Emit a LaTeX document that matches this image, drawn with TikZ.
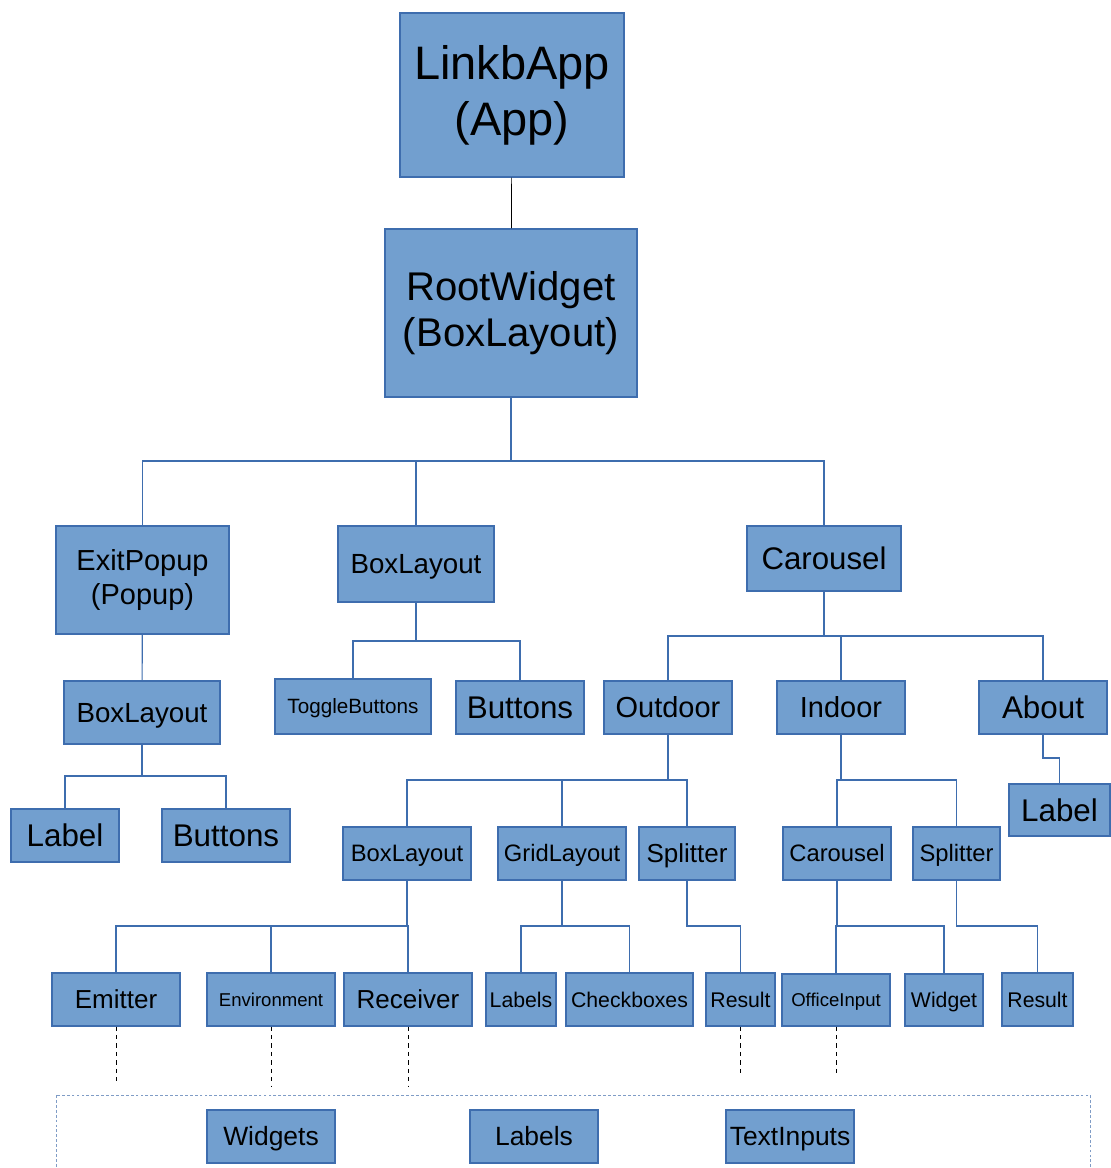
\documentclass[tikz,border=0pt]{standalone}
\usepackage{fontspec}
\setmainfont{Liberation Sans}
\usepackage{xcolor}
\usepackage{tikz}

\definecolor{boxfill}{HTML}{729FCF}
\definecolor{boxline}{HTML}{3E6DAE}
\definecolor{wireblue}{HTML}{3E6DAE}
\definecolor{framegray}{HTML}{7F9CC6}

\begin{document}
\begin{tikzpicture}[x=0.025cm, y=-0.025cm,
  box/.style={rectangle, draw=boxline, fill=boxfill, line width=0.8pt, inner sep=0pt, align=center, text=black},
  cell/.style={box, font=\fontsize{#1pt}{#1pt}\selectfont, text height=0.92*#1pt, text depth=0.21*#1pt},
  fs/.style 2 args={font=\fontsize{#1pt}{#2pt}\selectfont},
  wire/.style={draw=wireblue, line width=0.8pt},
  lead/.style={draw=black, dashed, line width=0.5pt},
  frame/.style={draw=framegray, dash pattern=on 2pt off 1.5pt, line width=0.6pt}]
\useasboundingbox (0,0) rectangle (1110,1168);

\node (app) [box, minimum width=5.6cm, minimum height=4.1cm, fs={33.4}{39.8}] at (512,95) {LinkbApp\\(App)};
\node (root) [box, minimum width=6.3cm, minimum height=4.2cm, fs={28.5}{32.7}] at (511,313) {RootWidget\\(BoxLayout)};

\node (exitpopup) [box, minimum width=4.325cm, minimum height=2.7cm, fs={20.6}{24.2}] at (142.5,580) {ExitPopup\\(Popup)};
\node (boxlayout) [cell=19.7, minimum width=3.9cm, minimum height=1.9cm] at (416,564) {BoxLayout};
\node (carousel) [cell=22.2, minimum width=3.85cm, minimum height=1.625cm] at (824,558.5) {Carousel};

\node (popuplayout) [cell=19.7, minimum width=3.9cm, minimum height=1.575cm] at (142,712.5) {BoxLayout};
\node (togglebuttons) [cell=14.7, minimum width=3.9cm, minimum height=1.375cm] at (353,706.5) {ToggleButtons};
\node (buttons) [cell=22.3, minimum width=3.2cm, minimum height=1.325cm] at (520,707.5) {Buttons};
\node (outdoor) [cell=20.6, minimum width=3.2cm, minimum height=1.325cm] at (668,707.5) {Outdoor};
\node (indoor) [cell=20.6, minimum width=3.2cm, minimum height=1.325cm] at (841,707.5) {Indoor};
\node (about) [cell=22.3, minimum width=3.2cm, minimum height=1.325cm] at (1043,707.5) {About};

\node (popuplabel) [cell=22.3, minimum width=2.7cm, minimum height=1.325cm] at (65,835.5) {Label};
\node (popupbuttons) [cell=22.3, minimum width=3.2cm, minimum height=1.325cm] at (226,835.5) {Buttons};
\node (aboutlabel) [cell=22.3, minimum width=2.525cm, minimum height=1.3cm] at (1059.5,810) {Label};

\node (outboxlayout) [cell=16.9, minimum width=3.2cm, minimum height=1.325cm] at (407,853.5) {BoxLayout};
\node (gridlayout) [cell=16.9, minimum width=3.2cm, minimum height=1.325cm] at (562,853.5) {GridLayout};
\node (outsplitter) [cell=18.5, minimum width=2.4cm, minimum height=1.325cm] at (687,853.5) {Splitter};
\node (incarousel) [cell=16.9, minimum width=2.7cm, minimum height=1.325cm] at (837,853.5) {Carousel};
\node (insplitter) [cell=16.9, minimum width=2.175cm, minimum height=1.325cm] at (956.5,853.5) {Splitter};

\node (emitter) [cell=18.5, minimum width=3.2cm, minimum height=1.325cm] at (116,999.5) {Emitter};
\node (environment) [cell=13.2, minimum width=3.2cm, minimum height=1.325cm] at (271,999.5) {Environment};
\node (receiver) [cell=18.5, minimum width=3.2cm, minimum height=1.325cm] at (408,999.5) {Receiver};
\node (labels) [cell=15.1, minimum width=1.75cm, minimum height=1.325cm] at (521,999.5) {Labels};
\node (checkboxes) [cell=15.1, minimum width=3.175cm, minimum height=1.325cm] at (629.5,999.5) {Checkboxes};
\node (outresult) [cell=15.1, minimum width=1.725cm, minimum height=1.325cm] at (740.5,999.5) {Result};
\node (officeinput) [cell=13.2, minimum width=2.7cm, minimum height=1.3cm] at (836,1000) {OfficeInput};
\node (widget) [cell=15.1, minimum width=1.95cm, minimum height=1.3cm] at (944,1000) {Widget};
\node (inresult) [cell=15.1, minimum width=1.775cm, minimum height=1.325cm] at (1037.5,999.5) {Result};

\draw[frame] (56,1095) rectangle (1090,1185);
\node (widgets) [cell=18.8, minimum width=3.2cm, minimum height=1.325cm] at (271,1136.5) {Widgets};
\node (commonlabels) [cell=18.8, minimum width=3.2cm, minimum height=1.325cm] at (534,1136.5) {Labels};
\node (textinputs) [cell=18.8, minimum width=3.2cm, minimum height=1.325cm] at (790,1136.5) {TextInputs};

\coordinate (rootfork) at (511,461);
\coordinate (popupfork) at (142,776);
\coordinate (layoutfork) at (416,641);
\coordinate (carouselfork) at (824,636);
\coordinate (outdoorfork) at (668,780);
\coordinate (indoorfork) at (841,780);
\coordinate (aboutfork) at (1043,758);
\coordinate (outboxfork) at (407,926);
\coordinate (gridfork) at (562,926);
\coordinate (outsplitfork) at (687,926);
\coordinate (incarouselfork) at (837,926);
\coordinate (insplitfork) at (956.5,926);

\coordinate (emitterend) at (116,1085);
\coordinate (environmentend) at (271,1087);
\coordinate (receiverend) at (408,1087);
\coordinate (outresultend) at (740.5,1077);
\coordinate (officeinputend) at (836,1075);

\draw[black, line width=0.5pt] (app) -- (root);

\draw[wire] (root.south) -- (rootfork) -| (exitpopup.north);
\draw[wire] (rootfork) -| (boxlayout.north);
\draw[wire] (rootfork) -| (carousel.north);

\draw[wire] (exitpopup) -- (popuplayout);
\draw[wire] (popuplayout.south) -- (popupfork) -| (popuplabel.north);
\draw[wire] (popupfork) -| (popupbuttons.north);

\draw[wire] (boxlayout.south) -- (layoutfork) -| (togglebuttons.north);
\draw[wire] (layoutfork) -| (buttons.north);

\draw[wire] (carousel.south) -- (carouselfork) -| (outdoor.north);
\draw[wire] (carouselfork) -| (indoor.north);
\draw[wire] (carouselfork) -| (about.north);

\draw[wire] (outdoor.south) -- (outdoorfork) -| (outboxlayout.north);
\draw[wire] (outdoorfork) -| (gridlayout.north);
\draw[wire] (outdoorfork) -| (outsplitter.north);

\draw[wire] (indoor.south) -- (indoorfork) -| (incarousel.north);
\draw[wire] (indoorfork) -| (insplitter.north);

\draw[wire] (about.south) -- (aboutfork) -| (aboutlabel.north);

\draw[wire] (outboxlayout.south) -- (outboxfork) -| (emitter.north);
\draw[wire] (outboxfork) -| (environment.north);
\draw[wire] (outboxfork) -| (receiver.north);

\draw[wire] (gridlayout.south) -- (gridfork) -| (labels.north);
\draw[wire] (gridfork) -| (checkboxes.north);

\draw[wire] (outsplitter.south) -- (outsplitfork) -| (outresult.north);

\draw[wire] (incarousel.south) -- (incarouselfork) -| (officeinput.north);
\draw[wire] (incarouselfork) -| (widget.north);

\draw[wire] (insplitter.south) -- (insplitfork) -| (inresult.north);

\draw[lead] (emitter.south) -- (emitterend);
\draw[lead] (environment.south) -- (environmentend);
\draw[lead] (receiver.south) -- (receiverend);
\draw[lead] (outresult.south) -- (outresultend);
\draw[lead] (officeinput.south) -- (officeinputend);
\end{tikzpicture}
\end{document}
